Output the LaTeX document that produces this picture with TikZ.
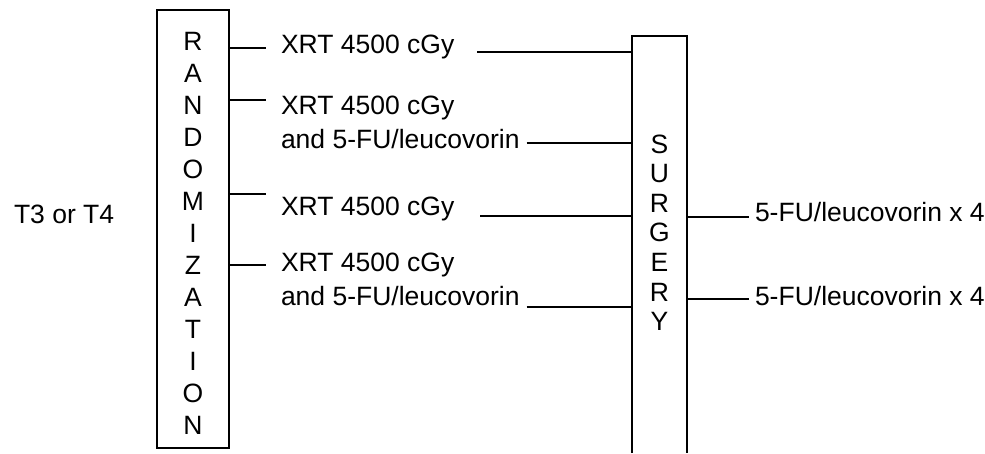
\documentclass[tikz,border=0pt]{standalone}
\usepackage{fontspec}
\setmainfont{Liberation Sans}
\begin{document}
\begin{tikzpicture}[x=1pt,y=-1pt, line width=1.8pt,
  lbl/.style={font=\fontsize{26.5}{30}\selectfont, inner sep=0pt, outer sep=0pt, anchor=base west},
  ltr/.style={font=\fontsize{26.5}{30}\selectfont, inner sep=0pt, anchor=base},
  conn/.style={line width=1.6pt},
  boxnode/.style={inner sep=0pt, outer sep=0pt}]
\useasboundingbox (0,0) rectangle (985,453);
% randomization box
\node[boxnode, draw, minimum width=72pt, minimum height=438pt] (rand) at (193,229) {};
\foreach \l [count=\i from 0] in {R,A,N,D,O,M,I,Z,A,T,I,O,N}
  \node[ltr] (r\i) at (193,{50+32*\i}) {\l};
% surgery box (open at the bottom)
\node[boxnode, minimum width=55pt, minimum height=417pt] (surg) at (659.5,244.5) {};
\draw (surg.south west) -- (surg.north west) -- (surg.north east) -- (surg.south east);
\foreach \l [count=\i from 0] in {S,U,R,G,E,R,Y}
  \node[ltr] (s\i) at (659.5,{153+29.6*\i}) {\l};
% texts
\node[lbl] (t)  at (14,223)  {T3 or T4};
\node[lbl] (a1) at (281,53)  {XRT 4500 cGy};
\node[lbl] (a2) at (281,114) {XRT 4500 cGy};
\node[lbl] (b2) at (281,148) {and 5-FU/leucovorin};
\node[lbl] (a3) at (281,215) {XRT 4500 cGy};
\node[lbl] (a4) at (281,271) {XRT 4500 cGy};
\node[lbl] (b4) at (281,305) {and 5-FU/leucovorin};
\node[lbl] (c1) at (755,221) {5-FU/leucovorin x 4};
\node[lbl] (c2) at (755,305) {5-FU/leucovorin x 4};
% left connectors
\draw[conn] (rand.east |- 0,48)  -- ([xshift=-15pt]a1.west |- 0,48);
\draw[conn] (rand.east |- 0,100) -- ([xshift=-15pt]a2.west |- 0,100);
\draw[conn] (rand.east |- 0,194) -- ([xshift=-15pt]a3.west |- 0,194);
\draw[conn] (rand.east |- 0,265) -- ([xshift=-15pt]a4.west |- 0,265);
% right connectors to surgery
\draw[conn] ([xshift=23pt]a1.east |- 0,52)  -- (surg.west |- 0,52);
\draw[conn] ([xshift=7pt]b2.east |- 0,143)  -- (surg.west |- 0,143);
\draw[conn] ([xshift=26pt]a3.east |- 0,216) -- (surg.west |- 0,216);
\draw[conn] ([xshift=7pt]b4.east |- 0,307)  -- (surg.west |- 0,307);
% surgery to follow-up
\draw[conn] (surg.east |- 0,217) -- ([xshift=-6pt]c1.west |- 0,217);
\draw[conn] (surg.east |- 0,299) -- ([xshift=-6pt]c2.west |- 0,299);
\end{tikzpicture}
\end{document}
